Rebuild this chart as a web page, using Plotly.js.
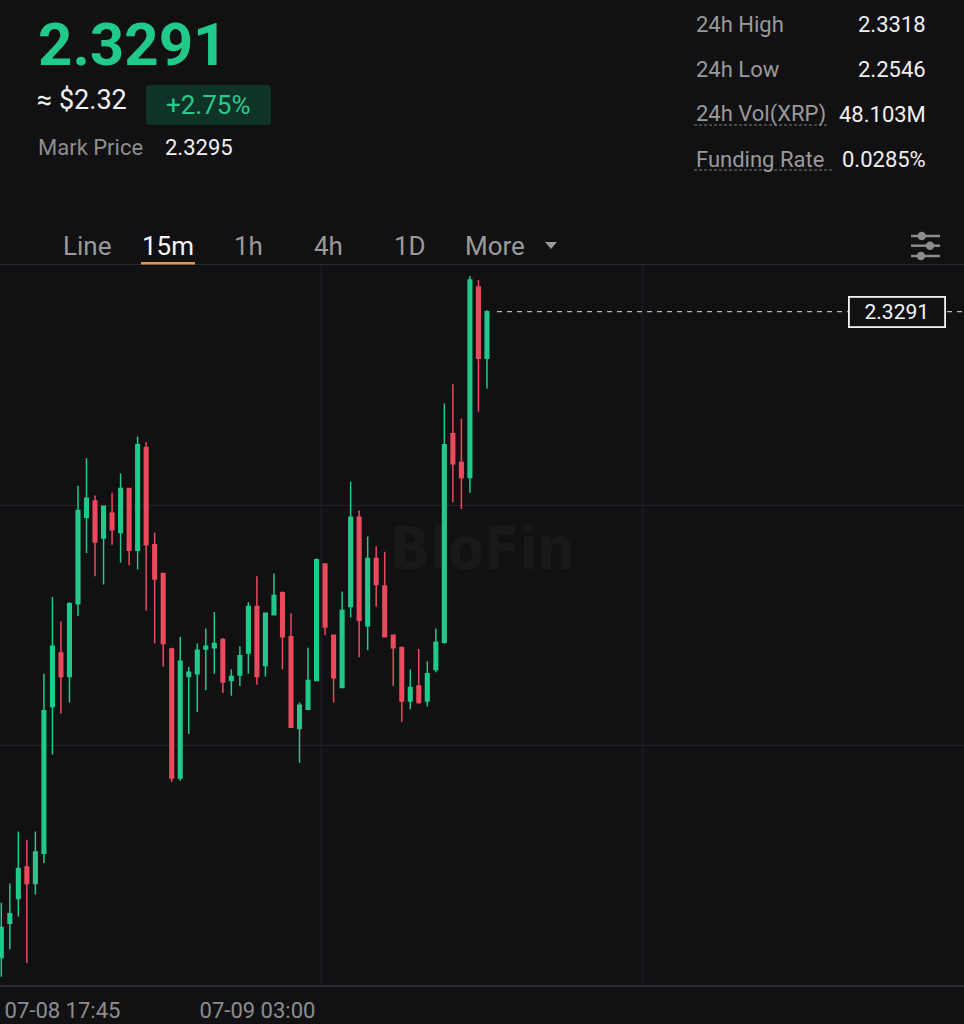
<!DOCTYPE html>
<html><head><meta charset="utf-8">
<script src="https://cdn.plot.ly/plotly-3.0.1.min.js"></script>
<style>html,body{margin:0;padding:0;background:#111113;overflow:hidden}#chart{width:964px;height:1024px}</style>
</head><body><div id="chart"></div>
<script>
// ---- data ----
const candleIndex = [0,1,2,3,4,5,6,7,8,9,10,11,12,13,14,15,16,17,18,19,20,21,22,23,24,25,26,27,28,29,30,31,32,33,34,35,36,37,38,39,40,41,42,43,44,45,46,47,48,49,50,51,52,53,54,55,56,57];
const openPrices = [2.2820,2.2845,2.2863,2.2886,2.2874,2.2896,2.3003,2.3042,2.3025,2.3078,
  2.3141,2.3153,2.3126,2.3144,2.3130,2.3162,2.3117,2.3192,2.3121,2.3100,
  2.3045,2.2951,2.3025,2.3027,2.3045,2.3046,2.3052,2.3022,2.3026,2.3042,
  2.3076,2.3033,2.3070,2.3086,2.3054,2.2987,2.3001,2.3022,2.3107,2.3055,
  2.3017,2.3076,2.3141,2.3062,2.3111,2.3091,2.3055,2.3046,2.3007,2.3018,
  2.3007,2.3030,2.3050,2.3202,2.3181,2.3170,2.3309,2.3257];
const highPrices = [2.2860,2.2874,2.2912,2.2906,2.2912,2.3027,2.3083,2.3065,2.3079,2.3164,
  2.3184,2.3157,2.3149,2.3159,2.3173,2.3162,2.3200,2.3196,2.3130,2.3100,
  2.3046,2.3054,2.3032,2.3049,2.3060,2.3072,2.3053,2.3030,2.3047,2.3079,
  2.3098,2.3071,2.3100,2.3087,2.3071,2.3006,2.3046,2.3111,2.3107,2.3055,
  2.3087,2.3167,2.3146,2.3127,2.3120,2.3116,2.3055,2.3047,2.3030,2.3045,
  2.3036,2.3060,2.3224,2.3238,2.3213,2.3317,2.3314,2.3292];
const lowPrices = [2.2806,2.2826,2.2850,2.2816,2.2866,2.2889,2.2968,2.2998,2.3006,2.3069,
  2.3115,2.3098,2.3092,2.3121,2.3108,2.3106,2.3103,2.3073,2.3049,2.3032,
  2.2948,2.2949,2.2983,2.2999,2.3015,2.3027,2.3013,2.3011,2.3018,2.3027,
  2.3019,2.3025,2.3070,2.3030,2.2988,2.2962,2.3001,2.3022,2.3055,2.3006,
  2.3017,2.3068,2.3039,2.3044,2.3076,2.3054,2.3018,2.2992,2.3001,2.3005,
  2.3003,2.3028,2.3049,2.3152,2.3147,2.3159,2.3218,2.3235];
const closePrices = [2.2842,2.2852,2.2885,2.2874,2.2897,2.3000,2.3047,2.3025,2.3078,2.3146,
  2.3155,2.3123,2.3149,2.3132,2.3162,2.3117,2.3194,2.3121,2.3096,2.3049,
  2.2951,2.3036,2.3028,2.3044,2.3047,2.3049,2.3021,2.3025,2.3040,2.3076,
  2.3025,2.3071,2.3084,2.3054,2.2988,2.3004,2.3022,2.3110,2.3061,2.3024,
  2.3073,2.3141,2.3066,2.3111,2.3092,2.3054,2.3046,2.3007,2.3017,2.3006,
  2.3027,2.3050,2.3194,2.3180,2.3170,2.3314,2.3257,2.3291];
const tickPositions = [7.18, 30.07];
const tickLabels = ['07-08 17:45', '07-09 03:00'];
const lastPrice = '2.3291';
const usdPrice = '≈ $2.32';
const changePct = '+2.75%';
const markLabel = 'Mark Price';
const markPrice = '2.3295';
const statLabels = ['24h High', '24h Low', '24h Vol(XRP)', 'Funding Rate'];
const statValues = ['2.3318', '2.2546', '48.103M', '0.0285%'];
const tabLabels = ['Line', '15m', '1h', '4h', '1D', 'More'];
const watermark = 'BloFin';

// ---- layout helpers (pixel -> paper) ----
const W = 964, H = 1024, PT = 265, PB = 985;
const px = x => x / W;
const py = y => (PB - y) / (PB - PT);
const FONT = 'Roboto, Inter, "Noto Sans", sans-serif';
const GREEN = '#21c98b', RED = '#eb4a5d', BG = '#111113';
const GRID = '#212225';

const annotations = [];
const shapes = [];
function txt(text, x, y, size, color, xanchor, weight) {
  annotations.push({text: text, xref: 'paper', yref: 'paper', x: px(x), y: py(y),
    xanchor: xanchor || 'left', yanchor: 'middle', showarrow: false,
    font: {family: FONT, size: size, color: color, weight: weight || 400}});
}
function hline(x0, x1, y, color, width, dash) {
  shapes.push({type: 'line', xref: 'paper', yref: 'paper', x0: px(x0), x1: px(x1), y0: py(y), y1: py(y),
    line: {color: color, width: width, dash: dash || 'solid'}});
}
function rrectPath(x0, y0, x1, y1, r) {
  const X = v => px(v), Y = v => py(v);
  return `M ${X(x0+r)} ${Y(y0)} L ${X(x1-r)} ${Y(y0)} Q ${X(x1)} ${Y(y0)} ${X(x1)} ${Y(y0+r)} ` +
    `L ${X(x1)} ${Y(y1-r)} Q ${X(x1)} ${Y(y1)} ${X(x1-r)} ${Y(y1)} L ${X(x0+r)} ${Y(y1)} ` +
    `Q ${X(x0)} ${Y(y1)} ${X(x0)} ${Y(y1-r)} L ${X(x0)} ${Y(y0+r)} Q ${X(x0)} ${Y(y0)} ${X(x0+r)} ${Y(y0)} Z`;
}

// header left
txt(lastPrice, 36, 44, 60, GREEN, 'left', 700);
txt(usdPrice, 35, 100, 27, '#f2f2f2');
shapes.push({type: 'path', xref: 'paper', yref: 'paper', path: rrectPath(146, 85, 271, 125, 4),
  fillcolor: '#0f3327', line: {width: 0}, layer: 'below'});
txt(changePct, 208.5, 105, 26, '#2cc98d', 'center');
txt(markLabel, 36, 148, 22, '#8e8e8e');
txt(markPrice, 163, 148, 22, '#f0f0f0');

// header right stats
const statRows = [24, 69, 114, 159];
statLabels.forEach((s, i) => {
  txt(s, 694, statRows[i], 22, '#9a9a9a');
  txt(statValues[i], 928, statRows[i], 22, '#f0f0f0', 'right');
});
hline(694, 827, 125, '#7d7d7d', 1, '3px,2px');
hline(694, 832, 170, '#7d7d7d', 1, '3px,2px');

// tabs
const tabX = [87, 168, 248.5, 328, 410, 495];
tabLabels.forEach((t, i) => txt(t, tabX[i], 246, 26, i === 1 ? '#f5f5f5' : '#9a9a9a', 'center'));
shapes.push({type: 'path', xref: 'paper', yref: 'paper',
  path: `M ${px(545)} ${py(242)} L ${px(557)} ${py(242)} L ${px(551)} ${py(249)} Z`,
  fillcolor: '#9a9a9a', line: {width: 0}});
shapes.push({type: 'rect', xref: 'paper', yref: 'paper', x0: px(141), x1: px(195), y0: py(264.5), y1: py(262),
  fillcolor: '#e8914a', line: {width: 0}});

// filter icon
[[236, 921.7], [245.7, 930], [256, 921]].forEach(([y, cx]) => {
  hline(911, 940, y, '#8c8c8c', 2.5);
  shapes.push({type: 'circle', xref: 'paper', yref: 'paper', x0: px(cx - 4.2), x1: px(cx + 4.2), y0: py(y - 4.2), y1: py(y + 4.2),
    fillcolor: '#8c8c8c', line: {width: 0}});
});

// vertical grid lines (thirds)
[1/3, 2/3].forEach(f => shapes.push({type: 'line', xref: 'paper', yref: 'paper', x0: f, x1: f, y0: 0, y1: 1,
  line: {color: GRID, width: 1}, layer: 'below'}));

// watermark behind candles
shapes.push({type: 'rect', xref: 'paper', yref: 'paper', x0: px(400), x1: px(565), y0: py(585), y1: py(505),
  line: {width: 0}, fillcolor: 'rgba(0,0,0,0)', layer: 'below',
  label: {text: watermark, textposition: 'middle center',
    font: {family: '"Liberation Sans Narrow", "DejaVu Sans Condensed", Roboto, sans-serif', size: 58, color: '#19191c', weight: 700}}});

// current price dashed line and tag
const last = closePrices[closePrices.length - 1];
shapes.push({type: 'line', xref: 'paper', yref: 'y', x0: px(497), x1: 1, y0: last, y1: last,
  line: {color: '#b8b8b8', width: 1.2, dash: '5px,5px'}});
annotations.push({text: last.toFixed(4), xref: 'paper', yref: 'y', x: px(896.5), y: last,
  xanchor: 'center', yanchor: 'middle', showarrow: false, width: 92, height: 26,
  bgcolor: BG, bordercolor: '#f2f2f2', borderwidth: 1.8, borderpad: 1,
  font: {family: FONT, size: 21, color: '#f5f5f5'}});

const trace = {
  type: 'candlestick', x: candleIndex,
  open: openPrices, high: highPrices, low: lowPrices, close: closePrices,
  increasing: {line: {color: GREEN, width: 1.5}, fillcolor: GREEN},
  decreasing: {line: {color: RED, width: 1.5}, fillcolor: RED},
  whiskerwidth: 0, hoverinfo: 'skip', showlegend: false
};

const layout = {
  width: W, height: H,
  margin: {l: 0, r: 0, t: PT, b: H - PB, pad: 0},
  paper_bgcolor: BG, plot_bgcolor: BG,
  showlegend: false,
  boxgap: 0.4,
  xaxis: {range: [-0.153, 112.99], rangeslider: {visible: false}, showgrid: false, zeroline: false,
    showline: true, mirror: true, linecolor: '#2a2b2e', linewidth: 1.5,
    tickmode: 'array', tickvals: tickPositions, ticktext: tickLabels, ticks: '',
    ticklabelstandoff: 5,
    tickfont: {family: FONT, size: 22, color: '#8d8d8d'}, fixedrange: true},
  yaxis: {range: [2.2800, 2.3325], tick0: 2.28, dtick: 0.0175, showgrid: true, gridcolor: GRID, gridwidth: 1,
    zeroline: false, showticklabels: false, ticks: '', fixedrange: true},
  annotations: annotations,
  shapes: shapes
};

Plotly.newPlot('chart', [trace], layout, {displayModeBar: false, staticPlot: true});
</script></body></html>
